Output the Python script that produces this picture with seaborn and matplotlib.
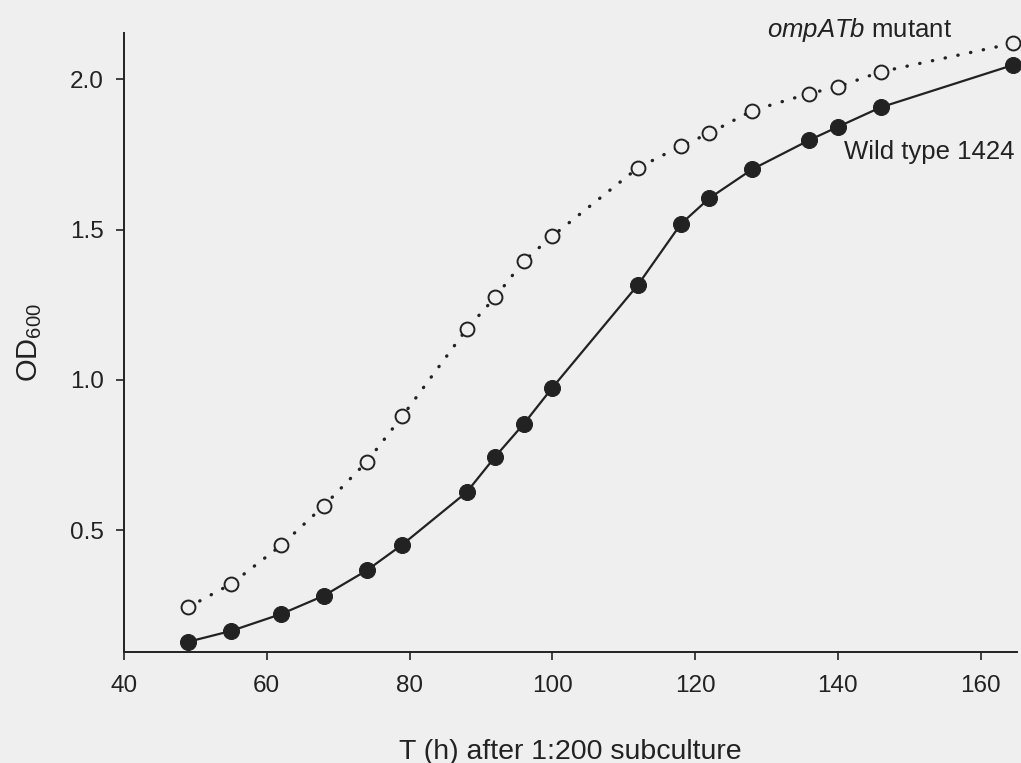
import numpy as np
import pandas as pd
import matplotlib
matplotlib.use("Agg")
import matplotlib.pyplot as plt
import seaborn as sns

# growth curves
hours = [49, 55, 62, 68, 74, 79, 88, 92, 96, 100, 112, 118, 122, 128, 136, 140, 146, 164.6]
od_wild = [0.13, 0.166, 0.222, 0.283, 0.367, 0.453, 0.627, 0.745, 0.854, 0.974,
           1.316, 1.518, 1.604, 1.70, 1.797, 1.841, 1.906, 2.047]
od_mutant = [0.245, 0.322, 0.45, 0.582, 0.728, 0.88, 1.169, 1.275, 1.395, 1.478,
             1.705, 1.777, 1.82, 1.895, 1.952, 1.974, 2.024, 2.119]
xticks = [40, 60, 80, 100, 120, 140, 160]
yticks = [0.5, 1.0, 1.5, 2.0]

BG = "#efefef"
INK = "#222222"

sns.set_style("ticks")
plt.rcParams["font.family"] = ["Liberation Sans", "DejaVu Sans"]
plt.rcParams["mathtext.fontset"] = "custom"
plt.rcParams["mathtext.it"] = "Liberation Sans:italic"
plt.rcParams["mathtext.rm"] = "Liberation Sans"

df = pd.DataFrame({"hours": hours, "wild": od_wild, "mutant": od_mutant})

fig = plt.figure(figsize=(10.21, 7.63), dpi=100, facecolor=BG)
ax = fig.add_axes([0.1215, 0.1455, 0.8745, 0.8112])
ax.set_facecolor(BG)

sns.lineplot(data=df, x="hours", y="mutant", ax=ax, color=INK,
             linestyle=(0, (0.1, 3.8)), linewidth=2.4, dash_capstyle="round",
             marker="o", markersize=10, markerfacecolor=BG,
             markeredgecolor=INK, markeredgewidth=1.4, clip_on=False)
sns.lineplot(data=df, x="hours", y="wild", ax=ax, color=INK,
             linewidth=1.6, marker="o", markersize=11.5,
             markerfacecolor=INK, markeredgecolor=INK, clip_on=False)

ax.set_xlim(40, 165.1)
ax.set_ylim(0.096, 2.153)
ax.set_xticks(xticks)
ax.set_yticks(yticks)
ax.set_yticklabels([f"{v:.1f}" for v in yticks])
ax.tick_params(axis="both", direction="out", length=5.5, width=1.2,
               color=INK, labelcolor=INK, labelsize=17.5)
ax.tick_params(axis="y", pad=9)
ax.tick_params(axis="x", pad=11)

for side in ["top", "right"]:
    ax.spines[side].set_visible(False)
for side in ["left", "bottom"]:
    ax.spines[side].set_color(INK)
    ax.spines[side].set_linewidth(1.4)

ax.set_xlabel("T (h) after 1:200 subculture", fontsize=20.5, color=INK, labelpad=30)
ax.set_ylabel("OD$_{600}$", fontsize=21, color=INK, labelpad=19)

ax.text(156, 2.163, r"$\it{ompATb}$ mutant", fontsize=18.5, color=INK,
        ha="right", va="center")
ax.text(164.8, 1.757, "Wild type 1424", fontsize=18.5, color=INK,
        ha="right", va="center")

fig.savefig("out.png", dpi=100, facecolor=BG)
